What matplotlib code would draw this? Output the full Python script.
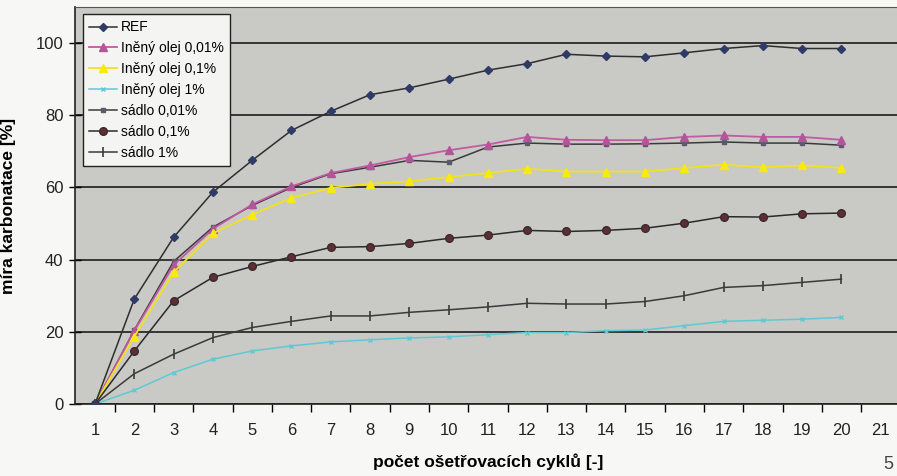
import numpy as np
import matplotlib.pyplot as plt

# ============================================================
# Data
# ============================================================
cycles = np.arange(1, 21)

ref        = [0, 29.1, 46.2, 58.7, 67.5, 75.8, 81.1, 85.7, 87.6, 90.0,
              92.5, 94.3, 96.9, 96.4, 96.2, 97.3, 98.5, 99.3, 98.5, 98.5]
olej_001   = [0, 20.3, 38.5, 48.5, 55.3, 60.3, 64.0, 66.1, 68.4, 70.3,
              71.9, 74.0, 73.2, 73.1, 73.1, 74.0, 74.4, 74.0, 74.0, 73.2]
olej_01    = [0, 18.7, 36.5, 47.3, 52.5, 57.1, 59.9, 61.0, 61.7, 62.9,
              64.0, 65.2, 64.4, 64.4, 64.4, 65.4, 66.3, 65.6, 66.1, 65.4]
olej_1     = [0, 3.8, 8.7, 12.4, 14.7, 16.1, 17.2, 17.8, 18.3, 18.6,
              19.2, 19.8, 19.8, 20.3, 20.5, 21.7, 22.9, 23.2, 23.5, 24.0]
sadlo_001  = [0, 20.5, 39.5, 49.0, 55.0, 60.0, 63.8, 65.6, 67.5, 67.0,
              71.2, 72.3, 72.0, 72.0, 72.1, 72.3, 72.6, 72.3, 72.3, 71.7]
sadlo_01   = [0, 14.7, 28.6, 35.1, 38.1, 40.8, 43.4, 43.6, 44.5, 45.9,
              46.8, 48.1, 47.8, 48.1, 48.7, 50.1, 51.9, 51.8, 52.7, 52.9]
sadlo_1    = [0, 8.4, 13.8, 18.4, 21.2, 22.9, 24.4, 24.4, 25.4, 26.1,
              26.9, 27.9, 27.7, 27.7, 28.4, 30.0, 32.3, 32.8, 33.7, 34.6]

x_labels = [str(i) for i in range(1, 22)]
y_ticks  = [0, 20, 40, 60, 80, 100]

# ============================================================
# Plot
# ============================================================
plt.rcParams['font.family'] = ['Liberation Sans', 'DejaVu Sans']

fig = plt.figure(figsize=(8.97, 4.76), dpi=100, facecolor='#f7f7f5')
ax = fig.add_axes([75.4 / 897, 72 / 476, 825 / 897, 397 / 476])
ax.set_facecolor('#c9c9c6')

ax.plot(cycles, ref, color='#2e2e2e', lw=1.1, marker='D', ms=4.5,
        mfc='#2f3b66', mec='#2f3b66', label='REF', zorder=5)
ax.plot(cycles, olej_001, color='#c35aa3', lw=1.3, marker='^', ms=6,
        mfc='#b4559a', mec='#b4559a', label='Iněný olej 0,01%', zorder=4)
ax.plot(cycles, olej_01, color='#f2e21c', lw=1.3, marker='^', ms=6,
        mfc='#f6ea10', mec='#f6ea10', label='Iněný olej 0,1%', zorder=4)
ax.plot(cycles, olej_1, color='#5ec9d2', lw=1.1, marker='x', ms=3,
        mec='#5ec9d2', label='Iněný olej 1%', zorder=4)
ax.plot(cycles, sadlo_001, color='#3a3a3a', lw=1.1, marker='s', ms=3.5,
        mfc='#5a5a6a', mec='#5a5a6a', label='sádlo 0,01%', zorder=3)
ax.plot(cycles, sadlo_01, color='#2a2a2a', lw=1.1, marker='o', ms=5.5,
        mfc='#5e2e34', mec='#3a2a2a', label='sádlo 0,1%', zorder=4)
ax.plot(cycles, sadlo_1, color='#3a3a3a', lw=1.1, marker='|', ms=7,
        mew=1.2, mec='#3a3a3a', label='sádlo 1%', zorder=4)

# axes and grid
ax.set_xlim(0.5, 21.5)
ax.set_ylim(0, 110)
ax.set_yticks(y_ticks)
ax.set_yticklabels([str(v) for v in y_ticks], fontsize=12, color='#222')
ax.yaxis.grid(True, color='#2a2a2a', lw=1.3)
ax.set_axisbelow(True)
ax.tick_params(axis='y', direction='inout', length=9, width=1, pad=4)

ax.set_xticks(np.arange(1, 22))
ax.set_xticklabels(x_labels, fontsize=12, color='#222')
ax.set_xticks(np.arange(1.5, 21.5, 1), minor=True)
ax.tick_params(axis='x', which='major', length=0, pad=14)
ax.tick_params(axis='x', which='minor', direction='out', length=6, width=1)

for side in ['left', 'bottom']:
    ax.spines[side].set_color('#222')
    ax.spines[side].set_linewidth(1.2)
ax.spines['top'].set_color('#555')
ax.spines['right'].set_visible(False)

ax.set_ylabel('míra karbonatace [%]', fontsize=12.5, fontweight='bold',
              labelpad=14)
ax.set_xlabel('počet ošetřovacích cyklů [-]', fontsize=12.5,
              fontweight='bold', labelpad=11)

leg = ax.legend(loc='upper left', bbox_to_anchor=(0.009, 0.982),
                borderaxespad=0, fontsize=10, frameon=True, fancybox=False,
                edgecolor='#222', facecolor='#f4f4f2', framealpha=1,
                handlelength=2.0, labelspacing=0.5, borderpad=0.45,
                handletextpad=0.3)
leg.get_frame().set_linewidth(1.0)

fig.text(0.985, 0.015, '5', fontsize=13, color='#444', ha='left')

plt.savefig('out.png', dpi=100, facecolor=fig.get_facecolor())
